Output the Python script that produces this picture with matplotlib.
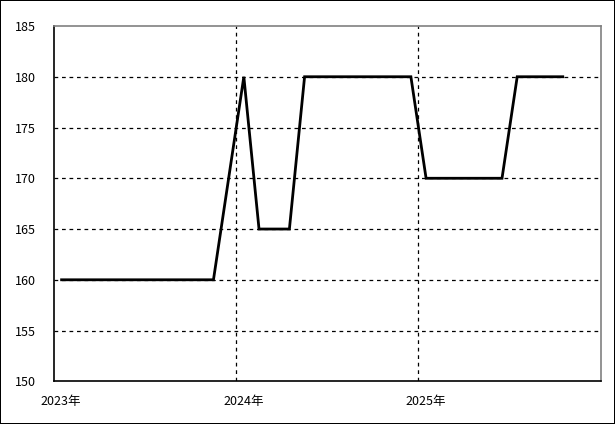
import numpy as np
import matplotlib.pyplot as plt
import matplotlib.transforms as mtransforms

plt.rcParams['font.family'] = ['Noto Sans CJK JP', 'DejaVu Sans']

# monthly values, Jan 2023 .. Oct 2025
values = [160, 160, 160, 160, 160, 160, 160, 160, 160, 160, 160,
          170, 180, 165, 165, 165,
          180, 180, 180, 180, 180, 180, 180, 180,
          170, 170, 170, 170, 170, 170,
          180, 180, 180, 180]
year_labels = ['2023年', '2024年', '2025年']
year_ticks = [0, 12, 24]
y_ticks = [150, 155, 160, 165, 170, 175, 180, 185]

x = np.arange(len(values)) + 0.5

fig = plt.figure(figsize=(6.15, 4.24), dpi=100, edgecolor='black', linewidth=1.2)
ax = fig.add_axes([0.0878, 0.1007, 0.889, 0.838])

ax.plot(x, values, color='black', linewidth=2, solid_joinstyle='miter', zorder=3)

ax.set_xlim(0, 36)
ax.set_ylim(150, 185)
ax.set_yticks(y_ticks)
ax.set_xticks(year_ticks)
ax.set_xticklabels(year_labels)

ax.grid(True, color='black', linestyle=(0, (3, 3)), linewidth=0.9)
# no dashes on top of the top/left spines
ax.get_ygridlines()[-1].set_visible(False)
ax.get_ygridlines()[0].set_visible(False)
ax.get_xgridlines()[0].set_visible(False)
ax.tick_params(length=0, labelsize=9, colors='black')
ax.tick_params(axis='y', pad=13)
ax.tick_params(axis='x', pad=10)

offset = mtransforms.ScaledTranslation(7 / 100, 0, fig.dpi_scale_trans)
for lab in ax.get_xticklabels():
    lab.set_transform(lab.get_transform() + offset)

ax.spines['left'].set_color('black')
ax.spines['bottom'].set_color('black')
ax.spines['top'].set_color('gray')
ax.spines['right'].set_color('gray')
for s in ax.spines.values():
    s.set_linewidth(1.2)

fig.savefig('out.png', dpi=100, edgecolor=fig.get_edgecolor())
